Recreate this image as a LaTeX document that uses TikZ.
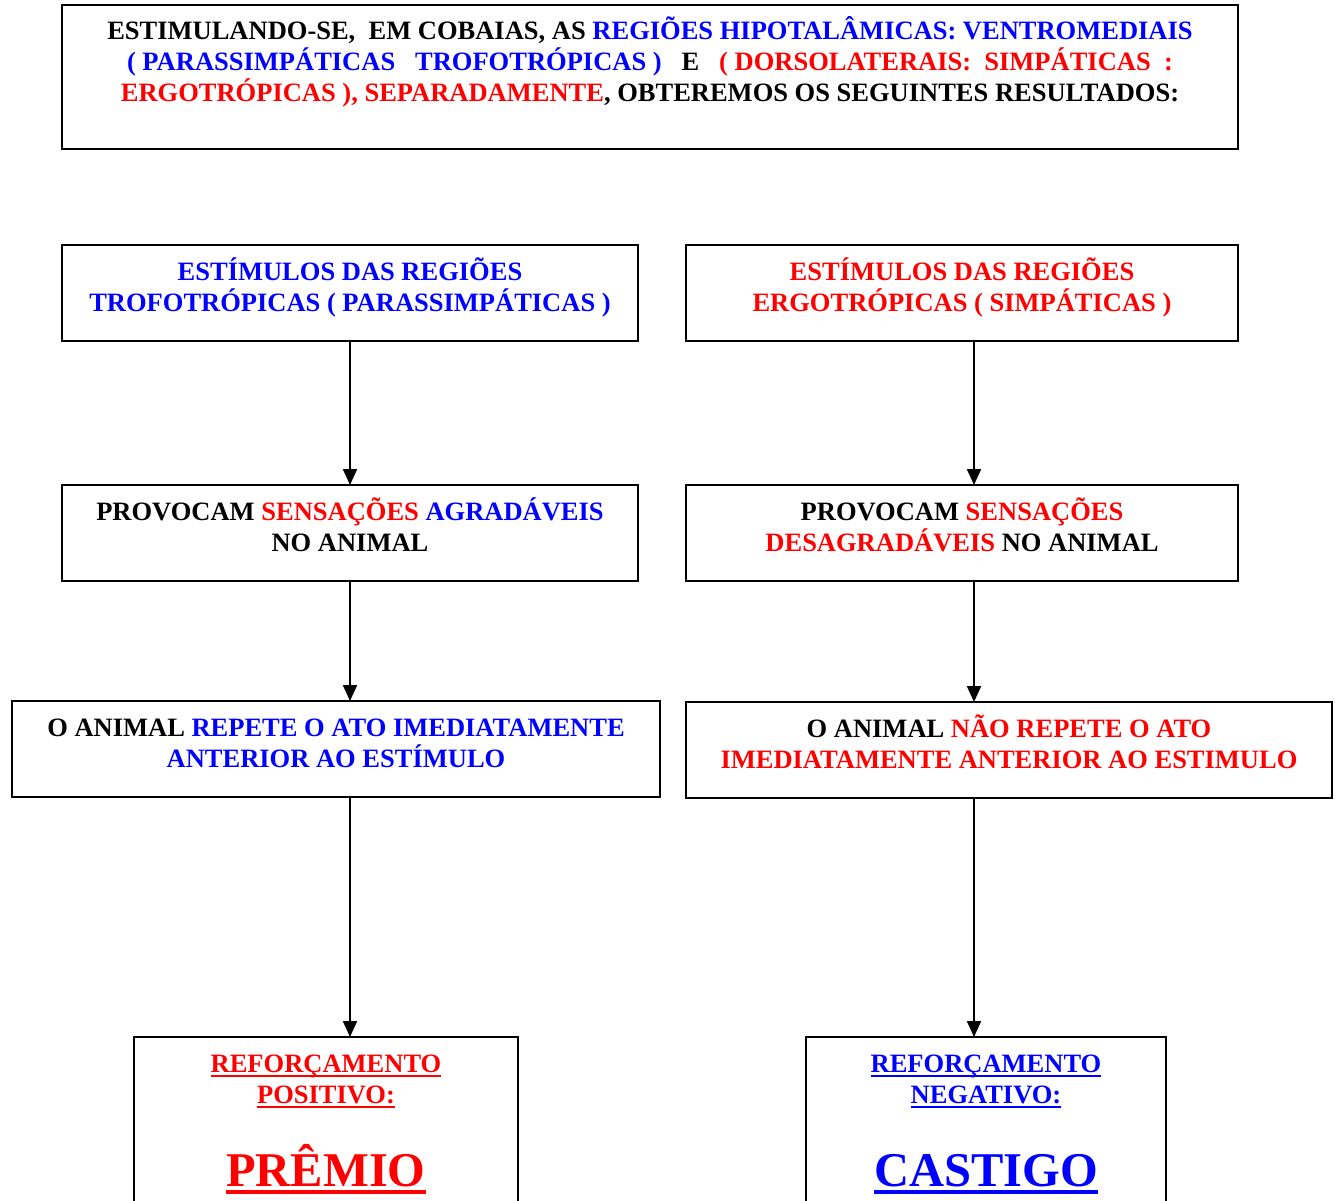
\documentclass[tikz,border=0pt]{standalone}
\usepackage{fontspec}
\setmainfont{Liberation Serif}
\usepackage{xcolor}
\usetikzlibrary{arrows.meta,positioning}

\definecolor{azul}{RGB}{0,0,255}
\definecolor{verm}{RGB}{255,0,0}

\newcommand{\az}[1]{\textcolor{azul}{#1}}
\newcommand{\vm}[1]{\textcolor{verm}{#1}}
% box text: fixed size, lines start at the top
\newcommand{\bloco}[3]{\parbox[c][#2][t]{#1}{\centering\rule{0pt}{35pt}#3}}
% thick underlines: depth, thickness, text
\newsavebox{\caixasub}
\newcommand{\sublinha}[3]{\leavevmode\sbox{\caixasub}{#3}\rlap{\rule[-#1]{\wd\caixasub}{#2}}\usebox{\caixasub}}
\newcommand{\subl}[1]{\sublinha{5pt}{2.3pt}{#1}}
\newcommand{\sublg}[1]{\sublinha{7.5pt}{4pt}{#1}}

\begin{document}
\begin{tikzpicture}[
    caixa/.style={draw, line width=1.8pt, inner sep=0pt, outer sep=0pt, font={\bfseries\fontsize{26.5}{31}\selectfont}},
    seta/.style={-{Triangle[width=14pt,length=16pt]}, line width=2pt}]
  \path[use as bounding box] (0,0) rectangle (1335pt,-1201pt);
  \clip (0,0) rectangle (1335pt,-1201pt);

  \node[caixa] (topo) at (650pt,-77pt) {\bloco{1176pt}{144pt}{ESTIMULANDO-SE,\ \ EM COBAIAS, AS \az{REGIÕES HIPOTALÂMICAS: VENTROMEDIAIS}\\
      \az{( PARASSIMPÁTICAS\ \ \ TROFOTRÓPICAS )}\ \ \ E\ \ \ \vm{( DORSOLATERAIS:\ \ SIMPÁTICAS\ \ :}\\
      \vm{ERGOTRÓPICAS ), SEPARADAMENTE}, OBTEREMOS OS SEGUINTES RESULTADOS:}};

  \node[caixa, below=96pt of topo.south west, anchor=north west] (trofo) {\bloco{576pt}{96pt}{\az{ESTÍMULOS DAS REGIÕES\\TROFOTRÓPICAS ( PARASSIMPÁTICAS )}}};
  \node[caixa, below=96pt of topo.south east, anchor=north east] (ergo) {\bloco{552pt}{96pt}{\vm{ESTÍMULOS DAS REGIÕES\\ERGOTRÓPICAS ( SIMPÁTICAS )}}};

  \node[caixa, below=144pt of trofo] (agrad) {\bloco{576pt}{96pt}{PROVOCAM \vm{SENSAÇÕES} \az{AGRADÁVEIS}\\NO ANIMAL}};
  \node[caixa, below=144pt of ergo] (desagrad) {\bloco{552pt}{96pt}{PROVOCAM \vm{SENSAÇÕES}\\\vm{DESAGRADÁVEIS} NO ANIMAL}};

  \node[caixa, below=120pt of agrad, xshift=-14pt] (repete) {\bloco{648pt}{96pt}{O ANIMAL \az{REPETE O ATO IMEDIATAMENTE\\ANTERIOR AO ESTÍMULO}}};
  \node[caixa, below=121pt of desagrad.south west, anchor=north west] (naorepete) {\bloco{646pt}{96pt}{O ANIMAL \vm{NÃO REPETE O ATO\\IMEDIATAMENTE ANTERIOR AO ESTIMULO}}};

  \node[caixa, below=240pt of repete, xshift=-10pt] (premio) {\bloco{384pt}{200pt}{\color{verm}\subl{REFORÇAMENTO}\\\subl{POSITIVO:}\\[27pt]
      {\fontsize{48.5}{56}\selectfont\sublg{PRÊMIO}\par}}};
  \node[caixa, below=239pt of naorepete, xshift=-23pt] (castigo) {\bloco{360pt}{200pt}{\color{azul}\subl{REFORÇAMENTO}\\\subl{NEGATIVO:}\\[27pt]
      {\fontsize{48.5}{56}\selectfont\sublg{CASTIGO}\par}}};

  % Edges
  \draw[seta] (trofo) -- (agrad);
  \draw[seta] (agrad) -- (agrad.south |- repete.north);
  \draw[seta] (agrad.south |- repete.south) -- (agrad.south |- premio.north);
  \coordinate[right=12pt of ergo.south] (eixo);
  \draw[seta] (eixo) -- (eixo |- desagrad.north);
  \draw[seta] (eixo |- desagrad.south) -- (eixo |- naorepete.north);
  \draw[seta] (eixo |- naorepete.south) -- (eixo |- castigo.north);
\end{tikzpicture}
\end{document}
